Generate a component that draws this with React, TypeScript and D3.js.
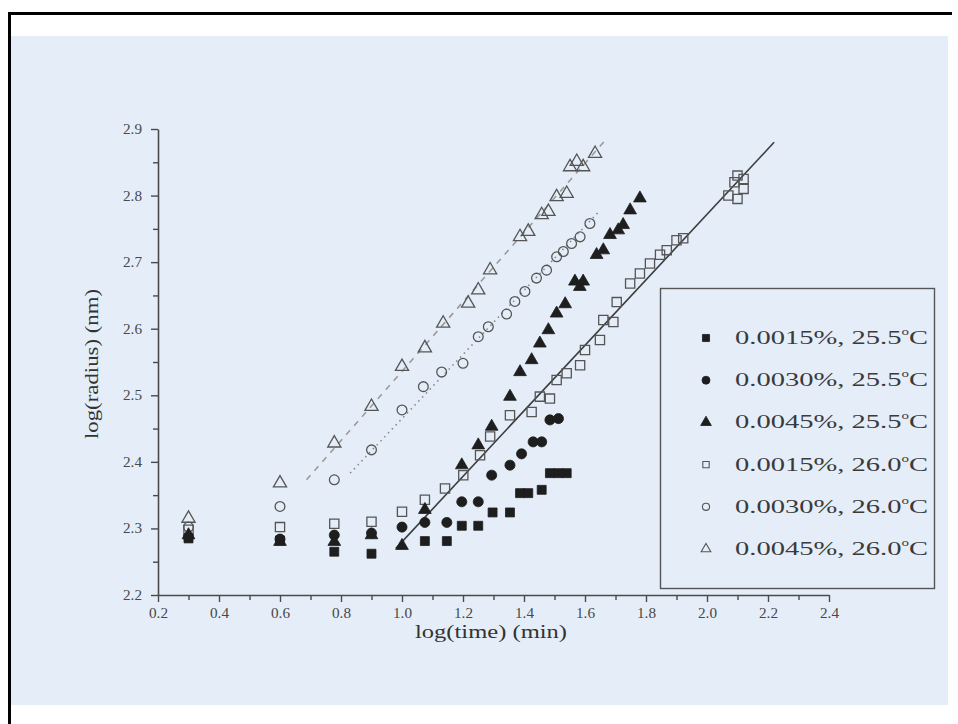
import React, { useEffect, useRef } from 'react';
import * as d3 from 'd3';

// 0.0015%, 25.5 C  (filled squares)
const sq255X = [0.3, 0.6, 0.778, 0.9, 1.075, 1.147, 1.196, 1.25, 1.297, 1.354, 1.387, 1.414, 1.458, 1.485, 1.513, 1.54];
const sq255Y = [2.285, 2.282, 2.265, 2.262, 2.281, 2.281, 2.304, 2.304, 2.324, 2.324, 2.353, 2.353, 2.358, 2.383, 2.383, 2.383];

// 0.0030%, 25.5 C  (filled circles)
const circ255X = [0.3, 0.6, 0.778, 0.9, 1.0, 1.075, 1.147, 1.196, 1.25, 1.294, 1.354, 1.392, 1.43, 1.458, 1.485, 1.513];
const circ255Y = [2.287, 2.284, 2.29, 2.293, 2.302, 2.309, 2.309, 2.34, 2.34, 2.38, 2.395, 2.412, 2.43, 2.43, 2.463, 2.465];

// 0.0045%, 25.5 C  (filled triangles)
const tri255X = [0.3, 0.6, 0.778, 0.9, 1.0, 1.075, 1.196, 1.25, 1.294, 1.354, 1.387, 1.425, 1.452, 1.48, 1.507, 1.535, 1.567, 1.583, 1.594, 1.638, 1.66, 1.682, 1.709, 1.725, 1.748, 1.78];
const tri255Y = [2.29, 2.28, 2.28, 2.29, 2.274, 2.328, 2.395, 2.425, 2.453, 2.498, 2.535, 2.553, 2.578, 2.598, 2.623, 2.637, 2.671, 2.663, 2.671, 2.711, 2.718, 2.741, 2.748, 2.756, 2.778, 2.796];

// 0.0015%, 26.0 C  (open squares)
const sq260X = [0.3, 0.6, 0.778, 0.9, 1.0, 1.075, 1.141, 1.201, 1.256, 1.289, 1.354, 1.425, 1.452, 1.485, 1.507, 1.54, 1.584, 1.6, 1.649, 1.66, 1.693, 1.704, 1.748, 1.78, 1.813, 1.846, 1.868, 1.9, 1.922, 2.07, 2.09, 2.1, 2.1, 2.12, 2.12];
const sq260Y = [2.298, 2.302, 2.307, 2.31, 2.325, 2.343, 2.36, 2.38, 2.41, 2.438, 2.47, 2.475, 2.498, 2.495, 2.523, 2.533, 2.545, 2.568, 2.583, 2.613, 2.61, 2.64, 2.668, 2.683, 2.698, 2.711, 2.718, 2.733, 2.736, 2.8, 2.82, 2.795, 2.83, 2.81, 2.825];

// 0.0030%, 26.0 C  (open circles)
const circ260X = [0.3, 0.6, 0.778, 0.9, 1.0, 1.07, 1.13, 1.2, 1.25, 1.283, 1.343, 1.37, 1.403, 1.441, 1.474, 1.507, 1.529, 1.556, 1.584, 1.616];
const circ260Y = [2.302, 2.333, 2.373, 2.418, 2.478, 2.513, 2.535, 2.548, 2.588, 2.603, 2.622, 2.641, 2.656, 2.676, 2.688, 2.708, 2.716, 2.728, 2.738, 2.758];

// 0.0045%, 26.0 C  (open triangles)
const tri260X = [0.3, 0.6, 0.778, 0.9, 1.0, 1.075, 1.135, 1.217, 1.25, 1.289, 1.387, 1.414, 1.458, 1.48, 1.507, 1.54, 1.551, 1.573, 1.594, 1.633];
const tri260Y = [2.315, 2.368, 2.428, 2.483, 2.543, 2.571, 2.608, 2.638, 2.658, 2.688, 2.738, 2.746, 2.771, 2.776, 2.798, 2.803, 2.843, 2.851, 2.843, 2.863];

// fitted lines (end points)
const solidLineX = [0.98, 2.22];
const solidLineY = [2.27, 2.88];
const dottedLineX = [0.83, 1.65];
const dottedLineY = [2.383, 2.778];
const dashedLineX = [0.687, 1.666];
const dashedLineY = [2.373, 2.883];

const xTicks = [0.2, 0.4, 0.6, 0.8, 1.0, 1.2, 1.4, 1.6, 1.8, 2.0, 2.2, 2.4];
const yTicks = [2.2, 2.3, 2.4, 2.5, 2.6, 2.7, 2.8, 2.9];

const legendConc = ['0.0015%, ', '0.0030%, ', '0.0045%, ', '0.0015%, ', '0.0030%, ', '0.0045%, '];
const legendTemp = ['25.5', '25.5', '25.5', '26.0', '26.0', '26.0'];

const W = 958, H = 724;
const grey = '#4a4a4a';
const serif = '"Times New Roman", "Liberation Serif", Times, serif';

function draw(ref: any) {
  const svg = d3.select(ref.current);
  svg.selectAll('*').remove();

  // page / scan background
  svg.append('rect').attr('x', 0).attr('y', 0).attr('width', W).attr('height', H).attr('fill', '#ffffff');
  svg.append('rect').attr('x', 10).attr('y', 36).attr('width', 938).attr('height', 669).attr('fill', '#e5eef8');
  svg.append('path').attr('d', `M9.5,${H} V13.5 H952`).attr('fill', 'none').attr('stroke', '#000').attr('stroke-width', 3);

  const x = d3.scaleLinear().domain([0.2, 2.4]).range([158, 829]);
  const y = d3.scaleLinear().domain([2.2, 2.9]).range([595, 129]);

  // axes
  const xMinor = d3.range(0.3, 2.4, 0.2);
  const yMinor = d3.range(2.25, 2.9, 0.1);

  const gx = svg.append('g').attr('transform', 'translate(0,595)');
  gx.call(d3.axisBottom(x).tickValues(xTicks).tickFormat(d3.format('.1f')).tickSizeInner(7).tickSizeOuter(0).tickPadding(6));
  gx.append('g').call(d3.axisBottom(x).tickValues(xMinor).tickFormat(() => '').tickSizeInner(5).tickSizeOuter(0))
    .select('.domain').remove();

  const gy = svg.append('g').attr('transform', 'translate(158,0)');
  gy.call(d3.axisLeft(y).tickValues(yTicks).tickFormat(d3.format('.1f')).tickSizeInner(7).tickSizeOuter(0).tickPadding(9));
  gy.append('g').call(d3.axisLeft(y).tickValues(yMinor).tickFormat(() => '').tickSizeInner(5).tickSizeOuter(0))
    .select('.domain').remove();

  svg.selectAll('.domain').attr('stroke', grey).attr('stroke-width', 1.6);
  svg.selectAll('.tick line').attr('stroke', grey).attr('stroke-width', 1.4);
  svg.selectAll('.tick text').attr('font-family', serif).attr('font-size', 14).attr('fill', '#484848')
    .attr('textLength', 19).attr('lengthAdjust', 'spacingAndGlyphs');

  // axis titles
  svg.append('text').attr('x', 491).attr('y', 638).attr('text-anchor', 'middle')
    .attr('font-family', serif).attr('font-size', 18).attr('fill', '#333')
    .attr('textLength', 152).attr('lengthAdjust', 'spacingAndGlyphs')
    .text('log(time) (min)');
  svg.append('text').attr('transform', 'translate(98,364) rotate(-90)').attr('text-anchor', 'middle')
    .attr('font-family', serif).attr('font-size', 18).attr('fill', '#333')
    .attr('textLength', 150).attr('lengthAdjust', 'spacingAndGlyphs')
    .text('log(radius) (nm)');

  // fitted lines
  const line = d3.line<number>().x(d => x(d[0])).y(d => y(d[1]));
  const pairs = (xs: number[], ys: number[]) => xs.map((v, i) => [v, ys[i]]);
  svg.append('path').attr('d', line(pairs(solidLineX, solidLineY) as any)).attr('fill', 'none')
    .attr('stroke', '#3c3c3c').attr('stroke-width', 1.6);
  svg.append('path').attr('d', line(pairs(dottedLineX, dottedLineY) as any)).attr('fill', 'none')
    .attr('stroke', '#8a8a8a').attr('stroke-width', 1.6).attr('stroke-dasharray', '1.5,4');
  svg.append('path').attr('d', line(pairs(dashedLineX, dashedLineY) as any)).attr('fill', 'none')
    .attr('stroke', '#9a9a9a').attr('stroke-width', 1.6).attr('stroke-dasharray', '6,6');

  const series = [
    { xs: sq255X, ys: sq255Y, type: d3.symbolSquare, size: 80, filled: true },
    { xs: circ255X, ys: circ255Y, type: d3.symbolCircle, size: 80, filled: true },
    { xs: tri255X, ys: tri255Y, type: d3.symbolTriangle, size: 70, filled: true },
    { xs: sq260X, ys: sq260Y, type: d3.symbolSquare, size: 85, filled: false },
    { xs: circ260X, ys: circ260Y, type: d3.symbolCircle, size: 75, filled: false },
    { xs: tri260X, ys: tri260Y, type: d3.symbolTriangle, size: 75, filled: false },
  ];

  // open series first, filled on top
  const order = [3, 4, 5, 0, 1, 2];
  order.forEach(k => {
    const s = series[k];
    svg.append('g')
      .selectAll('path')
      .data(pairs(s.xs, s.ys))
      .join('path')
      .attr('transform', d => `translate(${x(d[0])},${y(d[1])})`)
      .attr('d', d3.symbol().type(s.type).size(s.size)())
      .attr('fill', s.filled ? '#1e1e1e' : 'none')
      .attr('stroke', s.filled ? '#1e1e1e' : '#555')
      .attr('stroke-width', s.filled ? 0.8 : 1.3);
  });

  // legend
  const lg = svg.append('g');
  lg.append('rect').attr('x', 660.5).attr('y', 288.5).attr('width', 274).attr('height', 300)
    .attr('fill', 'none').attr('stroke', '#555').attr('stroke-width', 1.4);
  series.forEach((s, i) => {
    const cy = 338 + i * 42.2;
    lg.append('path').attr('transform', `translate(706,${cy})`)
      .attr('d', d3.symbol().type(s.type).size(s.filled ? 50 : 40)())
      .attr('fill', s.filled ? '#1e1e1e' : 'none')
      .attr('stroke', s.filled ? '#1e1e1e' : '#555')
      .attr('stroke-width', s.filled ? 0.8 : 1.1);
    const t = lg.append('text').attr('x', 735).attr('y', cy + 6)
      .attr('font-family', serif).attr('font-size', 19).attr('fill', '#3a3a3a')
      .attr('textLength', 193).attr('lengthAdjust', 'spacingAndGlyphs');
    t.append('tspan').text(legendConc[i] + legendTemp[i]);
    t.append('tspan').attr('font-size', 10).attr('dy', -9).text('o');
    t.append('tspan').attr('dy', 9).text('C');
  });
}

function Chart() {
  const ref = useRef(null);
  useEffect(() => { draw(ref); }, []);
  return (
    <div style={{ position: 'absolute', left: 0, top: 0 }}>
      <svg ref={ref} width={W} height={H} style={{ display: 'block' }}></svg>
    </div>
  );
}

export default function App() {
  return <Chart />;
}
